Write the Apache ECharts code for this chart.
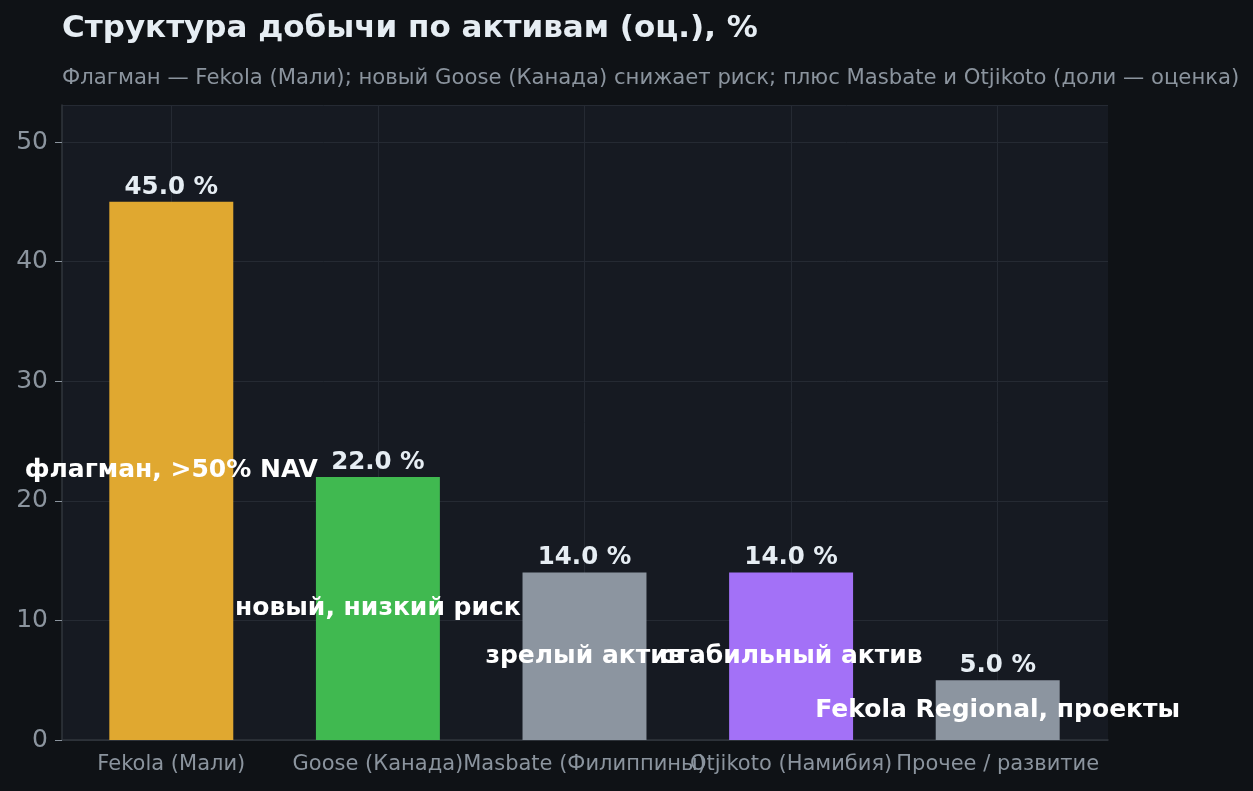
<!DOCTYPE html>
<html>
<head>
<meta charset="utf-8">
<script src="https://cdn.jsdelivr.net/npm/echarts@6/dist/echarts.min.js"></script>
<style>
  html, body { margin: 0; padding: 0; background: #0f1216; }
  #chart { width: 1253px; height: 791px; }
</style>
</head>
<body>
<div id="chart"></div>
<script>
// данные
const categories = ['Fekola (Мали)', 'Goose (Канада)', 'Masbate (Филиппины)', 'Otjikoto (Намибия)', 'Прочее / развитие'];
const shares = [45, 22, 14, 14, 5];
const notes = ['флагман, >50% NAV', 'новый, низкий риск', 'зрелый актив', 'стабильный актив', 'Fekola Regional, проекты'];
const barColors = ['#e0a830', '#40b950', '#8c95a0', '#a371f7', '#8c95a0'];
const yTicks = [0, 10, 20, 30, 40, 50];
const yMax = 53.1;

const FONT = 'DejaVu Sans';
const GRID_LINE = '#252a33';

const chart = echarts.init(document.getElementById('chart'));

const option = {
  backgroundColor: '#0f1216',
  animation: false,
  title: {
    text: 'Структура добычи по активам (оц.), %',
    subtext: 'Флагман — Fekola (Мали); новый Goose (Канада) снижает риск; плюс Masbate и Otjikoto (доли — оценка)',
    left: 57,
    top: 8,
    itemGap: 24,
    textStyle: { fontFamily: FONT, fontSize: 31, fontWeight: 'bold', color: '#e6edf3' },
    subtextStyle: { fontFamily: FONT, fontSize: 21.2, color: '#8b949e' }
  },
  grid: [
    // внутренняя сетка: столбцы и категории (с полями как в matplotlib)
    { left: 68, right: 152, top: 105, bottom: 51 },
    // внешняя: фон, ось Y, горизонтальные линии
    { left: 62, right: 145, top: 105, bottom: 51, show: true, backgroundColor: '#161a22', borderWidth: 0, z: 0 }
  ],
  xAxis: [
    {
      type: 'category',
      gridIndex: 0,
      data: categories,
      axisLine: { show: false },
      axisTick: { alignWithLabel: true, length: 7, lineStyle: { color: '#8b949e' } },
      axisLabel: { fontFamily: FONT, fontSize: 21, color: '#8b949e', margin: 14, interval: 0 },
      splitLine: { show: true, alignWithLabel: true, lineStyle: { color: GRID_LINE } }
    },
    {
      type: 'value',
      gridIndex: 1,
      min: 0, max: 1,
      axisLine: { show: true, lineStyle: { color: '#30363d', width: 1.5 } },
      axisTick: { show: false },
      axisLabel: { show: false },
      splitLine: { show: false }
    }
  ],
  yAxis: [
    {
      type: 'value',
      gridIndex: 0,
      min: yTicks[0], max: yMax, interval: 10,
      axisLine: { show: false }, axisTick: { show: false },
      axisLabel: { show: false }, splitLine: { show: false }
    },
    {
      type: 'value',
      gridIndex: 1,
      min: yTicks[0], max: yMax, interval: 10,
      axisLine: { show: true, lineStyle: { color: '#30363d', width: 1.5 } },
      axisTick: { show: true, length: 7, lineStyle: { color: '#8b949e' } },
      axisLabel: { fontFamily: FONT, fontSize: 25, color: '#8b949e', margin: 14, showMaxLabel: false },
      splitLine: { lineStyle: { color: GRID_LINE } }
    }
  ],
  series: [
    {
      type: 'bar',
      xAxisIndex: 0, yAxisIndex: 0,
      data: shares.map((v, i) => ({ value: v, itemStyle: { color: barColors[i] } })),
      barWidth: '60%',
      z: 2,
      label: {
        show: true,
        position: 'top',
        distance: 2,
        formatter: p => p.value.toFixed(1) + ' %',
        fontFamily: FONT, fontSize: 24.5, fontWeight: 'bold', color: '#e6edf3'
      }
    },
    {
      // подписи-пояснения внутри столбцов
      type: 'bar',
      xAxisIndex: 0, yAxisIndex: 0,
      data: shares,
      barWidth: '60%',
      barGap: '-100%',
      z: 3,
      itemStyle: { color: 'rgba(0,0,0,0)' },
      label: {
        show: true,
        position: 'inside',
        formatter: p => notes[p.dataIndex],
        fontFamily: FONT, fontSize: 25, fontWeight: 'bold', color: '#ffffff'
      },
      silent: true
    }
  ]
};

chart.setOption(option);
</script>
</body>
</html>
